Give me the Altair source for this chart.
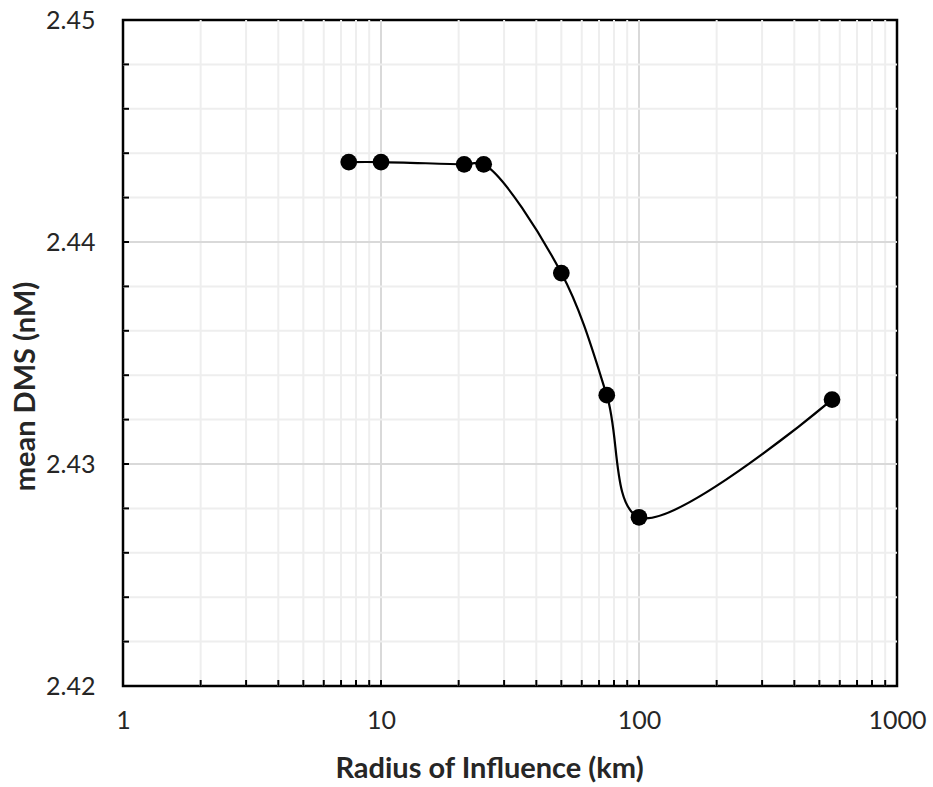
import altair as alt
import pandas as pd

radius_km = [7.5, 10, 21, 25, 50, 75, 100, 560]
mean_dms = [2.4436, 2.4436, 2.4435, 2.4435, 2.4386, 2.4331, 2.4276, 2.4329]

x_major = [10, 100]
x_minor = [m * d for d in (1, 10, 100) for m in range(2, 10)]
y_major = [2.43, 2.44]
y_minor = [2.422, 2.424, 2.426, 2.428, 2.432, 2.434, 2.436, 2.438,
           2.442, 2.444, 2.446, 2.448]
y_ticks = y_minor + y_major

W, H = 774, 666
FONT = "Lato"
TXT = "#262626"

df = pd.DataFrame({"r": radius_km, "m": mean_dms})

xscale = alt.Scale(type="log", domain=[1, 1000], nice=False)
yscale = alt.Scale(domain=[2.42, 2.45], nice=False, zero=False)

xaxis = alt.Axis(values=[1, 10, 100, 1000], format="d", grid=False, ticks=False,
                 domain=False, labelFont=FONT, labelFontSize=25, labelColor=TXT,
                 labelPadding=22, labelFlush=False,
                 title="Radius of Influence (km)", titleFont=FONT, titleFontSize=29,
                 titleFontWeight="bold", titleColor=TXT,
                 titleX=366, titleY=82, titleBaseline="middle", titleAlign="center")
yaxis = alt.Axis(values=[2.42, 2.43, 2.44, 2.45], format=".2f", grid=False, ticks=False,
                 domain=False, labelFont=FONT, labelFontSize=25, labelColor=TXT,
                 labelPadding=28, labelFlush=False,
                 title="mean DMS (nM)", titleFont=FONT, titleFontSize=29,
                 titleFontWeight="bold", titleColor=TXT,
                 titleX=-98, titleY=366, titleBaseline="middle", titleAlign="center",
                 titleAngle=270)

xminor_grid = alt.Chart(pd.DataFrame({"v": x_minor})).mark_rule(
    color="#eeeeee", strokeWidth=2).encode(x=alt.X("v:Q", scale=xscale))
xmajor_grid = alt.Chart(pd.DataFrame({"v": x_major})).mark_rule(
    color="#d9d9d9", strokeWidth=2).encode(x=alt.X("v:Q", scale=xscale))
yminor_grid = alt.Chart(pd.DataFrame({"v": y_minor})).mark_rule(
    color="#eeeeee", strokeWidth=2).encode(y=alt.Y("v:Q", scale=yscale))
ymajor_grid = alt.Chart(pd.DataFrame({"v": y_major})).mark_rule(
    color="#d9d9d9", strokeWidth=2).encode(y=alt.Y("v:Q", scale=yscale))

xticks = alt.Chart(pd.DataFrame({"v": x_minor + x_major})).mark_rule(
    color="black", strokeWidth=2).encode(
    x=alt.X("v:Q", scale=xscale), y=alt.value(H), y2=alt.value(H - 6))
yticks = alt.Chart(pd.DataFrame({"v": y_ticks})).mark_rule(
    color="black", strokeWidth=2).encode(
    y=alt.Y("v:Q", scale=yscale), x=alt.value(0), x2=alt.value(6))

base = alt.Chart(df).encode(
    x=alt.X("r:Q", scale=xscale, axis=xaxis),
    y=alt.Y("m:Q", scale=yscale, axis=yaxis),
)
line = base.mark_line(color="black", strokeWidth=2.2, interpolate="catmull-rom")
points = base.mark_circle(color="black", opacity=1, size=280)

chart = alt.layer(
    xminor_grid, xmajor_grid, yminor_grid, ymajor_grid, xticks, yticks, line, points
).properties(
    width=W, height=H,
    autosize=alt.AutoSizeParams(type="none"),
    padding={"left": 123, "top": 20, "right": 36, "bottom": 101},
    background="white",
).configure_view(stroke="black", strokeWidth=2.5)

chart.save("out.html", embed_options={"renderer": "svg", "actions": False})
